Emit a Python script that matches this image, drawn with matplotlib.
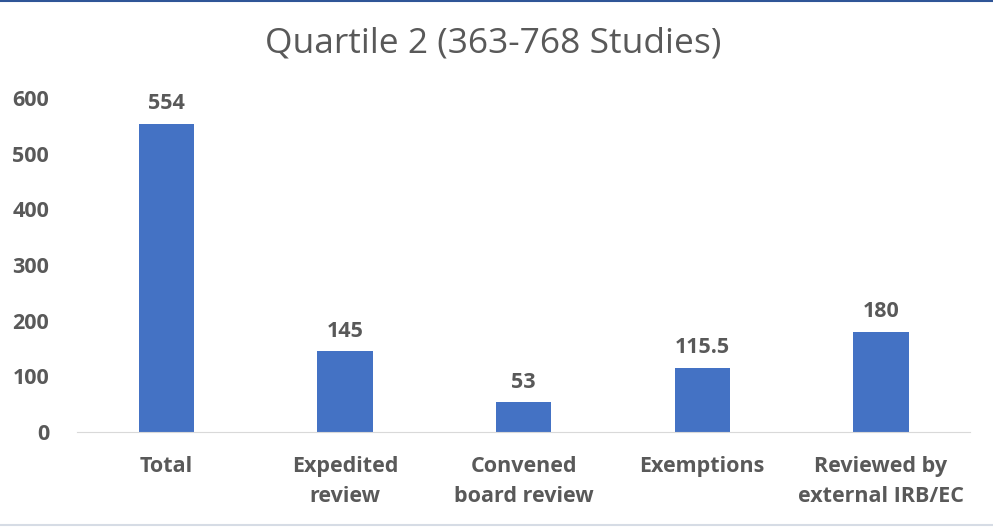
import matplotlib.pyplot as plt
from matplotlib.lines import Line2D

categories = ['Total', 'Expedited\nreview', 'Convened\nboard review', 'Exemptions', 'Reviewed by\nexternal IRB/EC']
values = [554, 145, 53, 115.5, 180]
labels = ['554', '145', '53', '115.5', '180']

plt.rcParams['font.family'] = ['Open Sans', 'DejaVu Sans']
gray = '#595959'

fig = plt.figure(figsize=(9.93, 5.27), dpi=100)
ax = fig.add_axes([0.0775, 0.1803, 0.8995, 0.6337])

x = range(len(values))
bars = ax.bar(x, values, width=0.31, color='#4472C4')
for xi, v, t in zip(x, values, labels):
    ax.text(xi, v + 17, t, ha='center', va='bottom', fontsize=15.5, fontweight='bold', color=gray)

ax.set_xlim(-0.5, len(values) - 0.5)
ax.set_ylim(0, 600)
ax.set_yticks(range(0, 601, 100))
ax.set_xticks(list(x))
ax.set_xticklabels(categories, fontsize=15.5, fontweight='bold', color=gray, linespacing=1.6)
for t in ax.get_yticklabels():
    t.set_fontsize(15.5)
    t.set_fontweight('bold')
    t.set_color(gray)
ax.tick_params(axis='both', length=0)
ax.tick_params(axis='x', pad=17)
ax.tick_params(axis='y', pad=20)
for s in ['top', 'right', 'left']:
    ax.spines[s].set_visible(False)
ax.spines['bottom'].set_color('#D9D9D9')

fig.text(0.497, 0.918, 'Quartile 2 (363-768 Studies)', ha='center', va='center', fontsize=25.5, color=gray)

fig.add_artist(Line2D([0, 1], [0.999, 0.999], color='#2F5597', lw=1.5, transform=fig.transFigure))
fig.add_artist(Line2D([0, 1], [0.004, 0.004], color='#D6DCE5', lw=1.5, transform=fig.transFigure))

fig.savefig('out.png', dpi=100)
